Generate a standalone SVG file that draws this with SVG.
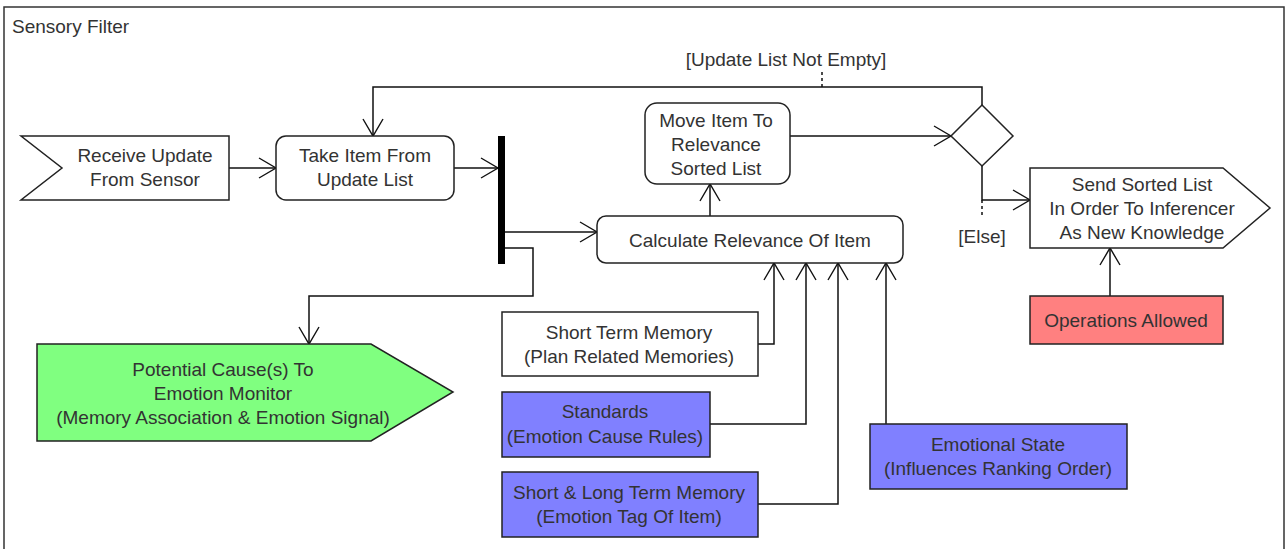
<svg xmlns="http://www.w3.org/2000/svg" width="1288" height="549" viewBox="0 0 1288 549">
  <defs>
    <marker id="open" markerUnits="userSpaceOnUse" markerWidth="22" markerHeight="24" refX="19" refY="12" orient="auto">
      <path d="M2,2 L19,12 L2,22" fill="none" stroke="#111" stroke-width="1.4"/>
    </marker>
    <style>
      .t { font-family: "Liberation Sans", Arial, sans-serif; font-size: 19px; fill: #333; }
      .c { text-anchor: middle; }
      .box { stroke: #222; stroke-width: 1.5; }
      .edge { fill: none; stroke: #111; stroke-width: 1.5; }
      .tick { fill: none; stroke: #111; stroke-width: 1.5; stroke-dasharray: 3 3; }
    </style>
  </defs>
  <rect width="1288" height="549" fill="#fff"/>

  <!-- swimlane frame -->
  <g id="frame">
    <rect x="4" y="7" width="1280" height="570" fill="none" stroke="#333" stroke-width="1.5"/>
    <text class="t" x="12" y="33">Sensory Filter</text>
  </g>

  <!-- connectors -->
  <g id="connectors">
    <path class="edge" d="M229,168 L276,168" marker-end="url(#open)"/>
    <path class="edge" d="M454,168 L498,168" marker-end="url(#open)"/>
    <path class="edge" d="M505,232 L597,232" marker-end="url(#open)"/>
    <path class="edge" d="M505,248 L533,248 L533,296 L309,296 L309,344" marker-end="url(#open)"/>
    <path class="edge" d="M710,216 L710,184" marker-end="url(#open)"/>
    <path class="edge" d="M790,136 L951,136" marker-end="url(#open)"/>
    <path class="edge" d="M982,105 L982,87 L373,87 L373,136" marker-end="url(#open)"/>
    <path class="edge" d="M982,166 L982,200 L1030,200" marker-end="url(#open)"/>
    <path class="edge" d="M1110,296 L1110,248" marker-end="url(#open)"/>
    <path class="edge" d="M758,344 L774,344 L774,263" marker-end="url(#open)"/>
    <path class="edge" d="M710,424 L806,424 L806,263" marker-end="url(#open)"/>
    <path class="edge" d="M758,504 L838,504 L838,263" marker-end="url(#open)"/>
    <path class="edge" d="M886,424 L886,263" marker-end="url(#open)"/>
    <path class="tick" d="M822,72 L822,87"/>
    <path class="tick" d="M982,200 L982,218"/>
    <text class="t c" x="786" y="66">[Update List Not Empty]</text>
    <text class="t c" x="982" y="243">[Else]</text>
  </g>

  <g id="receive-update">
    <polygon class="box" points="21,136 229,136 229,200 21,200 62,168" fill="#fff"/>
    <text class="t c" x="145" y="162">Receive Update</text>
    <text class="t c" x="145" y="186">From Sensor</text>
  </g>

  <g id="take-item">
    <rect class="box" x="276" y="136" width="178" height="64" rx="10" fill="#fff"/>
    <text class="t c" x="365" y="162">Take Item From</text>
    <text class="t c" x="365" y="186">Update List</text>
  </g>

  <g id="fork">
    <rect x="498" y="136" width="7" height="128" fill="#000"/>
  </g>

  <g id="move-item">
    <rect class="box" x="645" y="103" width="145" height="81" rx="12" fill="#fff"/>
    <text class="t c" x="716" y="127">Move Item To</text>
    <text class="t c" x="716" y="151">Relevance</text>
    <text class="t c" x="716" y="175">Sorted List</text>
  </g>

  <g id="calculate">
    <rect class="box" x="597" y="216" width="306" height="47" rx="9" fill="#fff"/>
    <text class="t c" x="750" y="247">Calculate Relevance Of Item</text>
  </g>

  <g id="decision">
    <polygon class="box" points="982,105 1013,136 982,166 951,136" fill="#fff"/>
  </g>

  <g id="send-sorted">
    <polygon class="box" points="1030,168 1223,168 1270,208 1223,248 1030,248" fill="#fff"/>
    <text class="t c" x="1142" y="191">Send Sorted List</text>
    <text class="t c" x="1142" y="215">In Order To Inferencer</text>
    <text class="t c" x="1142" y="239">As New Knowledge</text>
  </g>

  <g id="operations-allowed">
    <rect class="box" x="1030" y="296" width="193" height="48" fill="#ff8080"/>
    <text class="t c" x="1126" y="327">Operations Allowed</text>
  </g>

  <g id="potential-causes">
    <polygon class="box" points="37,344 371,344 453,392 371,441 37,441" fill="#80ff80"/>
    <text class="t c" x="223" y="376">Potential Cause(s) To</text>
    <text class="t c" x="223" y="400">Emotion Monitor</text>
    <text class="t c" x="223" y="424">(Memory Association &amp; Emotion Signal)</text>
  </g>

  <g id="short-term-memory">
    <rect class="box" x="502" y="312" width="256" height="64" fill="#fff"/>
    <text class="t c" x="629" y="339">Short Term Memory</text>
    <text class="t c" x="629" y="363">(Plan Related Memories)</text>
  </g>

  <g id="standards">
    <rect class="box" x="502" y="392" width="208" height="65" fill="#8080ff"/>
    <text class="t c" x="605" y="418">Standards</text>
    <text class="t c" x="605" y="443">(Emotion Cause Rules)</text>
  </g>

  <g id="short-long-memory">
    <rect class="box" x="502" y="472" width="256" height="65" fill="#8080ff"/>
    <text class="t c" x="629" y="499">Short &amp; Long Term Memory</text>
    <text class="t c" x="629" y="523">(Emotion Tag Of Item)</text>
  </g>

  <g id="emotional-state">
    <rect class="box" x="870" y="424" width="257" height="65" fill="#8080ff"/>
    <text class="t c" x="998" y="451">Emotional State</text>
    <text class="t c" x="998" y="475">(Influences Ranking Order)</text>
  </g>
</svg>
